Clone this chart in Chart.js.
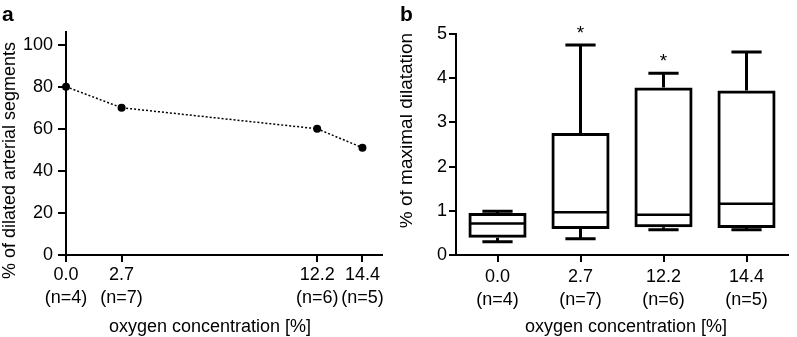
<!DOCTYPE html>
<html><head><meta charset="utf-8">
<script src="https://cdn.jsdelivr.net/npm/chart.js@4"></script>
<style>
html,body{margin:0;padding:0;background:#fff;}
#wrap{position:relative;width:797px;height:337px;overflow:hidden;background:#fff;}
#ca{position:absolute;left:0;top:0;}
#cb{position:absolute;left:400px;top:0;}
</style></head><body>
<div id="wrap">
<canvas id="ca" width="400" height="337"></canvas>
<canvas id="cb" width="397" height="337"></canvas>
</div>
<script>
// ---- data ----
const oxygenLevels = [0.0, 2.7, 12.2, 14.4];
const sampleSizes = ['(n=4)', '(n=7)', '(n=6)', '(n=5)'];
// panel a
const dilatedSegmentsPct = [80, 70, 60, 51];
const yTicksA = [0, 20, 40, 60, 80, 100];
// panel b (box plots)
const boxMin    = [0.30, 0.37, 0.57, 0.57];
const boxQ1     = [0.39, 0.59, 0.63, 0.61];
const boxMedian = [0.71, 0.97, 0.91, 1.16];
const boxQ3     = [0.95, 2.76, 3.79, 3.72];
const boxMax    = [0.99, 4.75, 4.11, 4.59];
const significance = ['', '*', '*', ''];
const yTicksB = [0, 1, 2, 3, 4, 5];

const FONT = "'Liberation Sans', Arial, Helvetica, sans-serif";
Chart.defaults.font.family = FONT;
Chart.defaults.font.size = 18;
Chart.defaults.color = '#000';

const annotate = {
  id: 'annotate',
  afterDraw(chart, args, o) {
    const {ctx, chartArea: a} = chart;
    ctx.save();
    ctx.fillStyle = '#000';
    ctx.font = `bold 21px ${FONT}`;
    ctx.textAlign = 'left'; ctx.textBaseline = 'alphabetic';
    ctx.fillText(o.letter, o.letterX, 21);
    ctx.font = `18px ${FONT}`;
    ctx.textAlign = 'center'; ctx.textBaseline = 'middle';
    ctx.fillText(o.xTitle, (a.left + a.right) / 2 + o.xDx, a.bottom + o.xDy);
    ctx.translate(o.yX, (a.top + a.bottom) / 2 + o.yDy);
    ctx.rotate(-Math.PI / 2);
    ctx.font = `${o.ySize}px ${FONT}`;
    ctx.fillText(o.yTitle, 0, 0);
    ctx.restore();
  }
};

const axisStyle = (tickLength) => ({
  grid: {display: true, drawOnChartArea: false, drawTicks: true, tickLength, color: '#000', lineWidth: 2},
  border: {display: true, color: '#000', width: 2}
});

// ---- panel a ----
new Chart(document.getElementById('ca'), {
  type: 'line',
  data: {
    datasets: [{
      data: oxygenLevels.map((x, i) => ({x, y: dilatedSegmentsPct[i]})),
      borderColor: '#000', borderWidth: 1.5, borderDash: [2, 2],
      pointRadius: 4, pointBackgroundColor: '#000', pointBorderColor: '#000', pointBorderWidth: 0,
      tension: 0, clip: false, fill: false
    }]
  },
  options: {
    responsive: false, animation: false, devicePixelRatio: 1,
    layout: {padding: {top: 32, right: 18, bottom: 0, left: 0}},
    plugins: {legend: {display: false}, tooltip: {enabled: false},
      annotate: {letter: 'a', letterX: 2, xTitle: 'oxygen concentration [%]', xDx: -14, xDy: 72,
        yTitle: '% of dilated arterial segments', yX: 10, yDy: 17, ySize: 18}},
    scales: {
      x: Object.assign({
        type: 'linear', min: 0, max: 15.35,
        afterBuildTicks: s => { s.ticks = oxygenLevels.map(v => ({value: v})); },
        ticks: {autoSkip: false, maxRotation: 0, minRotation: 0, padding: 2, color: '#000',
          font: {size: 18, lineHeight: 1.26},
          callback: (v, i) => [Number(v).toFixed(1), sampleSizes[i]]},
        afterFit: s => { s.height = 82; }
      }, axisStyle(7)),
      y: Object.assign({
        min: 0, max: 106,
        afterBuildTicks: s => { s.ticks = yTicksA.map(v => ({value: v})); },
        ticks: {padding: 5, color: '#000', font: {size: 18}},
        afterFit: s => { s.width = 66; }
      }, axisStyle(8))
    }
  },
  plugins: [annotate]
});

// ---- panel b ----
const whiskers = {
  id: 'whiskers',
  afterDatasetsDraw(chart) {
    const meta = chart.getDatasetMeta(0);
    const y = chart.scales.y;
    const ctx = chart.ctx;
    ctx.save();
    ctx.strokeStyle = '#000'; ctx.fillStyle = '#000';
    meta.data.forEach((bar, i) => {
      const x = bar.x, w = bar.width;
      const pMax = y.getPixelForValue(boxMax[i]);
      const pMin = y.getPixelForValue(boxMin[i]);
      const pQ1 = y.getPixelForValue(boxQ1[i]);
      const pQ3 = y.getPixelForValue(boxQ3[i]);
      const pMed = y.getPixelForValue(boxMedian[i]);
      const cw = w * 0.26;
      ctx.lineWidth = 3;
      ctx.beginPath();
      ctx.moveTo(x, pQ3); ctx.lineTo(x, pMax);
      ctx.moveTo(x, pQ1); ctx.lineTo(x, pMin);
      ctx.moveTo(x - cw, pMax); ctx.lineTo(x + cw, pMax);
      ctx.moveTo(x - cw, pMin); ctx.lineTo(x + cw, pMin);
      ctx.stroke();
      ctx.lineWidth = 2.5;
      ctx.beginPath();
      ctx.moveTo(x - w / 2 + 1, pMed); ctx.lineTo(x + w / 2 - 1, pMed);
      ctx.stroke();
      if (significance[i]) {
        ctx.font = `19px ${FONT}`;
        ctx.textAlign = 'center'; ctx.textBaseline = 'alphabetic';
        ctx.fillText(significance[i], x, pMax - 6);
      }
    });
    ctx.restore();
  }
};

new Chart(document.getElementById('cb'), {
  type: 'bar',
  data: {
    labels: oxygenLevels.map((v, i) => [v.toFixed(1), sampleSizes[i]]),
    datasets: [{
      data: boxQ1.map((q, i) => [q, boxQ3[i]]),
      backgroundColor: 'rgba(255,255,255,0)', borderColor: '#000', borderWidth: 3,
      borderSkipped: false, categoryPercentage: 1, barPercentage: 0.7
    }]
  },
  options: {
    responsive: false, animation: false, devicePixelRatio: 1,
    layout: {padding: {top: 34, right: 9, bottom: 0, left: 0}},
    plugins: {legend: {display: false}, tooltip: {enabled: false},
      annotate: {letter: 'b', letterX: 0, xTitle: 'oxygen concentration [%]', xDx: 4, xDy: 72,
        yTitle: '% of maximal dilatation', yX: 7, yDy: -14, ySize: 19}},
    scales: {
      x: Object.assign({
        type: 'category',
        ticks: {autoSkip: false, maxRotation: 0, minRotation: 0, padding: 4, color: '#000',
          font: {size: 18, lineHeight: 1.26}},
        afterFit: s => { s.height = 82; }
      }, axisStyle(7), {grid: {display: true, offset: false, drawOnChartArea: false, drawTicks: true, tickLength: 7, color: '#000', lineWidth: 2}}),
      y: Object.assign({
        min: 0, max: 5,
        afterBuildTicks: s => { s.ticks = yTicksB.map(v => ({value: v})); },
        ticks: {padding: 2, color: '#000', font: {size: 18}},
        afterFit: s => { s.width = 56; }
      }, axisStyle(7))
    }
  },
  plugins: [whiskers, annotate]
});
</script>
</body></html>
